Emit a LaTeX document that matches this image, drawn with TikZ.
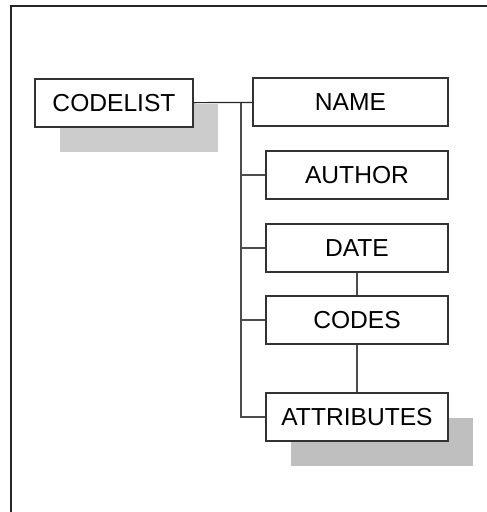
\documentclass[tikz,border=0pt]{standalone}
\usepackage{fontspec}
\setmainfont{Liberation Sans}
\usetikzlibrary{positioning, shadows}
\tikzstyle{block} = [draw=black!80, line width=0.6pt, rectangle, fill=white,
    minimum height=24pt, minimum width=91pt, font=\fontsize{12.3}{14}\selectfont]
\tikzstyle{shade} = [general shadow={fill=#1, shadow xshift=12.5pt, shadow yshift=-12.5pt}]

\begin{document}
\begin{tikzpicture}[x=0.5pt, y=-0.5pt, node distance=36.5pt]

        \useasboundingbox (0,0) rectangle (486,512);
        \draw[line width=0.8pt, black!85] (490,6) -- (11,6) -- (11,516);

        \node[
            block,
            shade=black!20,
            minimum width=79pt
        ](codelist) at (114,103){CODELIST};

        \node[
            block,
            minimum width=97.5pt
        ](name) at (350.5,102){NAME};

        \node[block] (author) at (357,175){AUTHOR};
        \node[block, below of=author](date){DATE};
        \node[block, below of=date, node distance=36pt](codes){CODES};
        \node[
            block,
            shade=black!25,
            below of=codes,
            node distance=48.5pt
        ](attributes){ATTRIBUTES};

        \coordinate (trunk) at (241,103);

        \draw[black!85, line width=0.6pt] (codelist) -- (name);
        \foreach \n in {author, date, codes, attributes}
            \draw[black!70, line width=0.6pt] (trunk) |- (\n.west);
        \draw[black!70, line width=0.6pt] (date) -- (codes);
        \draw[black!70, line width=0.6pt] (codes) -- (attributes);
    \end{tikzpicture}
\end{document}
